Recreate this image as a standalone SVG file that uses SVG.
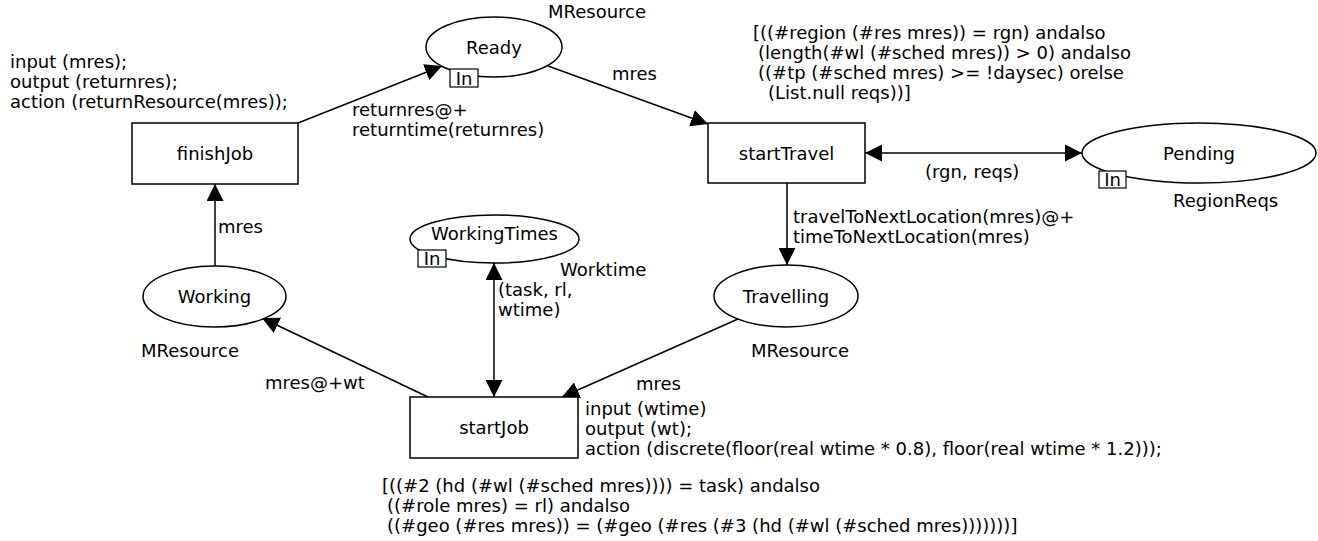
<svg xmlns="http://www.w3.org/2000/svg" width="1318" height="541" viewBox="0 0 1318 541">
<defs>
<style>
text{font-family:"DejaVu Sans",Verdana,sans-serif;font-size:18px;fill:#000}
.c{text-anchor:middle}
.shape{fill:#fff;stroke:#000;stroke-width:1.5}
.tag{fill:#fff;stroke:#000;stroke-width:1.2}
.arc{fill:none;stroke:#000;stroke-width:1.5}
</style>
<marker id="ah" viewBox="0 0 17 17" refX="17" refY="8.5" markerWidth="17" markerHeight="17" markerUnits="userSpaceOnUse" orient="auto-start-reverse">
<path d="M0,0 L17,8.5 L0,17 z" fill="#000"/>
</marker>
</defs>
<rect width="1318" height="541" fill="#fff"/>

<g id="connectors">
<line class="arc" x1="298" y1="123" x2="442" y2="66" marker-end="url(#ah)"/>
<line class="arc" x1="548" y1="66" x2="708" y2="124" marker-end="url(#ah)"/>
<line class="arc" x1="865" y1="153" x2="1082" y2="153" marker-start="url(#ah)" marker-end="url(#ah)"/>
<line class="arc" x1="787" y1="183" x2="787" y2="265" marker-end="url(#ah)"/>
<line class="arc" x1="738" y1="319" x2="562" y2="397" marker-end="url(#ah)"/>
<line class="arc" x1="494" y1="263" x2="494" y2="397" marker-start="url(#ah)" marker-end="url(#ah)"/>
<line class="arc" x1="428" y1="397" x2="262" y2="318" marker-end="url(#ah)"/>
<line class="arc" x1="215" y1="266" x2="215" y2="184" marker-end="url(#ah)"/>
<text x="612" y="80">mres</text>
<text x="352" y="116">returnres@+</text>
<text x="352" y="136">returntime(returnres)</text>
<text x="925" y="178">(rgn, reqs)</text>
<text x="793" y="223">travelToNextLocation(mres)@+</text>
<text x="793" y="243">timeToNextLocation(mres)</text>
<text x="498" y="296">(task, rl,</text>
<text x="498" y="316">wtime)</text>
<text x="218" y="233">mres</text>
<text x="265" y="389">mres@+wt</text>
<text x="636" y="390">mres</text>
</g>

<g id="finishJob">
<rect class="shape" x="132" y="123" width="166" height="61"/>
<text class="c" x="215" y="160">finishJob</text>
<text x="10" y="68">input (mres);</text>
<text x="10" y="88">output (returnres);</text>
<text x="10" y="108">action (returnResource(mres));</text>
</g>

<g id="Ready">
<ellipse class="shape" cx="494" cy="47" rx="68" ry="30"/>
<text class="c" x="494" y="54">Ready</text>
<rect class="tag" x="450" y="69" width="28" height="18"/>
<text class="c" x="464" y="85">In</text>
<text x="548" y="18">MResource</text>
</g>

<g id="startTravel">
<rect class="shape" x="708" y="123" width="157" height="60"/>
<text class="c" x="786.5" y="160">startTravel</text>
<text x="753" y="39">[((#region (#res mres)) = rgn) andalso</text>
<text x="758" y="59">(length(#wl (#sched mres)) &gt; 0) andalso</text>
<text x="758" y="79">((#tp (#sched mres) &gt;= !daysec) orelse</text>
<text x="768" y="99">(List.null reqs))]</text>
</g>

<g id="Pending">
<ellipse class="shape" cx="1199" cy="153" rx="117" ry="30"/>
<text class="c" x="1199" y="160">Pending</text>
<rect class="tag" x="1099" y="171" width="27" height="17"/>
<text class="c" x="1112.5" y="186">In</text>
<text x="1173" y="207">RegionReqs</text>
</g>

<g id="Travelling">
<ellipse class="shape" cx="786" cy="296" rx="72" ry="31"/>
<text class="c" x="786" y="303">Travelling</text>
<text x="751" y="357">MResource</text>
</g>

<g id="WorkingTimes">
<ellipse class="shape" cx="494.5" cy="239" rx="84.5" ry="24"/>
<text class="c" x="494.5" y="240">WorkingTimes</text>
<rect class="tag" x="418" y="250" width="28" height="17"/>
<text class="c" x="432" y="265">In</text>
<text x="560" y="276">Worktime</text>
</g>

<g id="Working">
<ellipse class="shape" cx="214.5" cy="296.5" rx="71.5" ry="30.5"/>
<text class="c" x="214.5" y="303">Working</text>
<text x="141" y="357">MResource</text>
</g>

<g id="startJob">
<rect class="shape" x="410" y="397" width="168" height="61"/>
<text class="c" x="494" y="434">startJob</text>
<text x="585" y="415">input (wtime)</text>
<text x="585" y="435">output (wt);</text>
<text x="585" y="455">action (discrete(floor(real wtime * 0.8), floor(real wtime * 1.2)));</text>
<text x="382" y="492">[((#2 (hd (#wl (#sched mres)))) = task) andalso</text>
<text x="387" y="512">((#role mres) = rl) andalso</text>
<text x="387" y="532">((#geo (#res mres)) = (#geo (#res (#3 (hd (#wl (#sched mres)))))))]</text>
</g>
</svg>
